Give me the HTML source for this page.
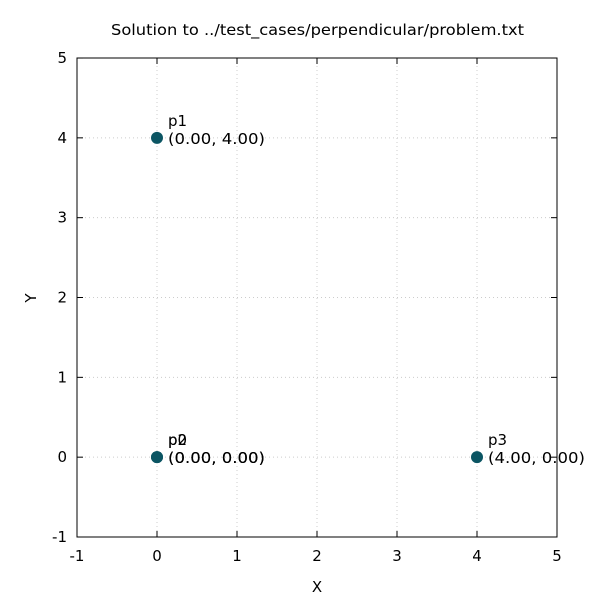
<!DOCTYPE html>
<html><head><meta charset="utf-8"><style>
body{margin:0;background:#fff}
svg text{font-family:"DejaVu Sans","Liberation Sans",sans-serif;fill:#000}
</style></head><body>
<svg width="600" height="600" id="c">
<rect width="600" height="600" fill="#fff"/>
<text x="111" y="35" font-size="15" textLength="413" lengthAdjust="spacingAndGlyphs">Solution to ../test_cases/perpendicular/problem.txt</text>
<text x="317" y="592" font-size="15" text-anchor="middle">X</text>
<text x="36" y="298" font-size="15" text-anchor="middle" transform="rotate(-90 36 298)">Y</text>
<g id="grid"></g><g id="ticks"></g>
<rect x="77" y="58" width="480" height="479" fill="none" stroke="#000" stroke-width="1"/>
<g id="pts"></g>
</svg>
<script>
const xTicks=[-1,0,1,2,3,4,5];
const yTicks=[-1,0,1,2,3,4,5];
const names=["p0","p1","p2","p3"];
const xs=[0,0,0,4];
const ys=[0,4,0,0];
const X=v=>77+(v+1)*80, Y=v=>537-(v+1)*79.83;
const ns="http://www.w3.org/2000/svg";
function mk(t,a,p){const e=document.createElementNS(ns,t);for(const k in a)e.setAttribute(k,a[k]);p.appendChild(e);return e;}
const g=document.getElementById('grid'),tk=document.getElementById('ticks'),pts=document.getElementById('pts');
xTicks.forEach(v=>{
 if(v>-1&&v<5){const l=mk('line',{x1:X(v),x2:X(v),y1:58,y2:537,stroke:'#ccc','stroke-dasharray':'1,3'},g);
 
 }
 mk('line',{x1:X(v),x2:X(v),y1:537,y2:531,stroke:'#000'},tk);
 mk('line',{x1:X(v),x2:X(v),y1:58,y2:64,stroke:'#000'},tk);
 const t=mk('text',{x:X(v),y:561,'font-size':15,'text-anchor':'middle'},tk);t.textContent=v;
 
 
});
yTicks.forEach(v=>{
 if(v>-1&&v<5){const l=mk('line',{x1:77,x2:557,y1:Y(v),y2:Y(v),stroke:'#ccc','stroke-dasharray':'1,3'},g);
 
 }
 mk('line',{x1:77,x2:83,y1:Y(v),y2:Y(v),stroke:'#000'},tk);
 mk('line',{x1:557,x2:551,y1:Y(v),y2:Y(v),stroke:'#000'},tk);
 const t=mk('text',{x:67,y:Y(v)+5,'font-size':15,'text-anchor':'end'},tk);t.textContent=v;
 
 
});
names.forEach((n,i)=>{
 const cx=X(xs[i]),cy=Y(ys[i]);
 const c=mk('circle',{cx:cx,cy:cy,r:6,fill:'#0b5563'},pts);
 
 
 const a=mk('text',{x:cx+11,y:cy-12,'font-size':15},pts);a.textContent=n;
 
 
 const b=mk('text',{x:cx+11,y:cy+6,'font-size':15,textLength:97,lengthAdjust:'spacingAndGlyphs'},pts);b.textContent='('+xs[i].toFixed(2)+', '+ys[i].toFixed(2)+')';
 
 
});
</script>
</body></html>
